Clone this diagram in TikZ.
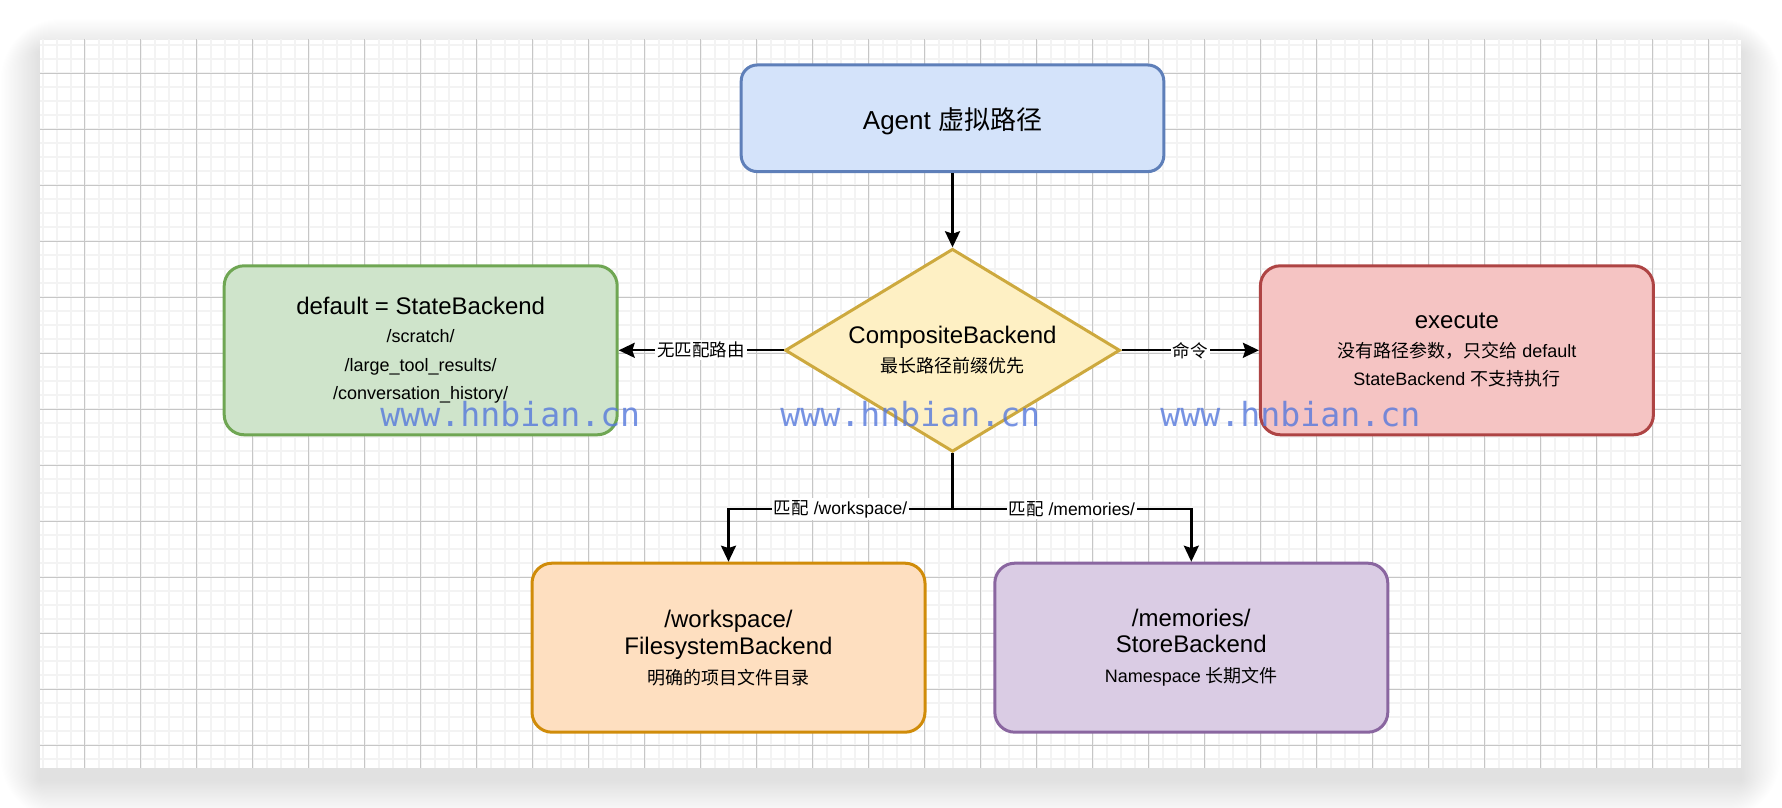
\documentclass[tikz,border=0pt]{standalone}
\usepackage{fontspec}
\setmainfont{Liberation Sans}
\newfontfamily\cjk{Noto Sans CJK SC}
\newfontfamily\wmfont{DejaVu Sans Mono}
\usepackage{xcolor}
\usepackage{tikz}
\usetikzlibrary{shapes,arrows,positioning,calc,arrows.meta}

\definecolor{agentfill}{HTML}{D4E3FA}
\definecolor{agentline}{HTML}{5E7FB9}
\definecolor{routerfill}{HTML}{FEF0C4}
\definecolor{routerline}{HTML}{CDA93E}
\definecolor{dfltfill}{HTML}{CFE4CB}
\definecolor{dfltline}{HTML}{6FA653}
\definecolor{execfill}{HTML}{F5C4C3}
\definecolor{execline}{HTML}{AE4444}
\definecolor{wsfill}{HTML}{FEDFC0}
\definecolor{wsline}{HTML}{D08C0A}
\definecolor{memfill}{HTML}{DACCE4}
\definecolor{memline}{HTML}{8A66A0}
\definecolor{gridminor}{HTML}{F3F3F3}
\definecolor{gridmajor}{HTML}{C6C6C6}
\definecolor{wmblue}{HTML}{5578DC}

\newcommand{\titlefs}{\fontsize{12}{14.5}\selectfont}
\newcommand{\smallfs}{\fontsize{9}{14.2}\selectfont}
\newcommand{\labelfs}{\fontsize{8.75}{10}\selectfont}

\begin{document}
\begin{tikzpicture}[x=0.5pt, y=0.5pt, node distance=2cm,
    box/.style={draw, rectangle, rounded corners=10pt, line width=1.5pt, minimum width=196.5pt, minimum height=84.5pt, align=center, font=\smallfs},
    lbl/.style={fill=white, inner sep=1pt, font=\labelfs},
    arr/.style={-{Stealth[length=8pt, width=7.5pt, inset=1.2pt]}, line width=1.2pt},
    wmark/.style={text=wmblue, text opacity=0.8, inner sep=0pt, anchor=base west, font=\wmfont\fontsize{16.6}{18}\selectfont}]
    % Page, shadow and grid
    \useasboundingbox (0,0) rectangle (1782,808);
    \fill [white] (0,0) rectangle (1782,808);
    \foreach \r in {1,...,30}
        \fill [black, opacity=0.003, rounded corners=\r pt] (40-1.3*\r,28-1.3*\r) rectangle (1741+1.3*\r,756+1.1*\r);
    \fill [white] (40,40) rectangle (1741,768);
    \begin{scope}
        \clip (40,40) rectangle (1741,768);
        \draw [gridminor, line width=1pt, step=14, shift={(0.6,6.7)}] (-14,-14) grid (1800,820);
        \draw [gridmajor, line width=0.5pt, step=56, shift={(28.6,6.7)}] (-56,-56) grid (1800,820);
    \end{scope}

    % Agent
    \node [box, draw=agentline, fill=agentfill, rounded corners=8pt, minimum width=211.3pt, minimum height=53.3pt, text height=14.2pt, text depth=2.8pt, font=\fontsize{13}{15}\selectfont] (agent) at (952.5,689.7) {Agent {\cjk 虚拟路径}};

    % CompositeBackend
    \node [diamond, draw=routerline, fill=routerfill, line width=1.5pt, aspect=1.65, inner sep=0pt, minimum width=167.5pt, minimum height=101.5pt, align=center, font=\smallfs, node distance=116pt, below of=agent] (router) {{\titlefs CompositeBackend}\\[0.5pt] {\cjk 最长路径前缀优先}};

    % Backends
    \node [box, draw=dfltline, fill=dfltfill, node distance=265.9pt, left of=router] (dflt) {{\titlefs default = StateBackend}\\ /scratch/\\ /large\_tool\_results/\\ /conversation\_history/};
    \node [box, draw=execline, fill=execfill, node distance=252.2pt, right of=router] (exec) {{\titlefs execute}\\ {\cjk 没有路径参数，只交给} default\\ StateBackend {\cjk 不支持执行}};
    \node [box, draw=wsline, fill=wsfill, node distance=148.7pt, below of=router, xshift=-112pt] (ws) {{\titlefs /workspace/}\\[-0.8pt] {\titlefs FilesystemBackend}\\[0.8pt] {\cjk 明确的项目文件目录}};
    \node [box, draw=memline, fill=memfill, node distance=148.7pt, below of=router, xshift=119.4pt] (mem) {{\titlefs /memories/}\\[-0.8pt] {\titlefs StoreBackend}\\[0.8pt] Namespace {\cjk 长期文件}};

    % Connectors
    \draw [arr] (agent) -- (router);
    \draw [arr] (router.west) -- node[lbl] {\cjk 无匹配路由} (dflt.east);
    \draw [arr] (router.east) -- node[lbl] {\cjk 命令} (exec.west);
    \coordinate (split) at ([yshift=-28pt]router.south);
    \draw [arr] (router.south) -- (split) -| node[lbl, pos=0.25] {{\cjk 匹配} /workspace/} (ws.north);
    \draw [arr] (router.south) -- (split) -| node[lbl, pos=0.25] {{\cjk 匹配} /memories/} (mem.north);

    % Watermarks
    \node [wmark] (wm1) at (380,381) {www.hnbian.cn};
    \node [wmark] (wm2) at (780,381) {www.hnbian.cn};
    \node [wmark] (wm3) at (1160,381) {www.hnbian.cn};
\end{tikzpicture}
\end{document}
